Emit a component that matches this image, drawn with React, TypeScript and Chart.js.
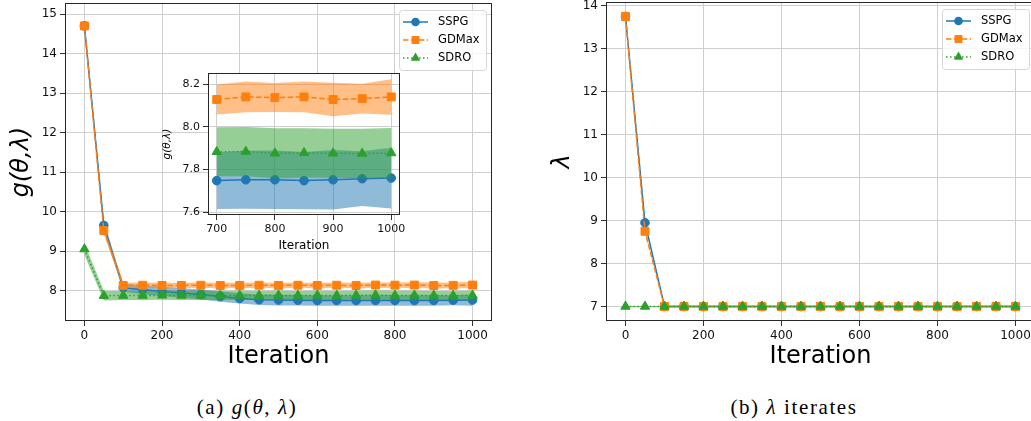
import React, { useEffect, useRef } from 'react';
import { Chart, registerables } from 'chart.js';

Chart.register(...registerables);

const FONT = "'DejaVu Sans', sans-serif";
const BLUE = '#1f77b4';
const ORANGE = '#ff7f0e';
const GREEN = '#2ca02c';

// ---------------- data ----------------
const iterations = [0, 50, 100, 150, 200, 250, 300, 350, 400, 450, 500, 550, 600, 650, 700, 750, 800, 850, 900, 950, 1000];
const seriesNames = ['SSPG', 'GDMax', 'SDRO'];

const gSSPG = [14.70, 9.65, 8.07, 8.02, 7.98, 7.94, 7.90, 7.85, 7.80, 7.77, 7.76, 7.755, 7.75, 7.75, 7.748, 7.752, 7.752, 7.748, 7.752, 7.757, 7.760];
const gSSPGStd = [0.12, 0.12, 0.10, 0.11, 0.12, 0.12, 0.125, 0.13, 0.13, 0.133, 0.135, 0.135, 0.135, 0.135, 0.133, 0.136, 0.137, 0.134, 0.139, 0.128, 0.142];
const gGDMax = [14.70, 9.52, 8.13, 8.135, 8.13, 8.13, 8.135, 8.13, 8.13, 8.135, 8.13, 8.135, 8.13, 8.135, 8.128, 8.140, 8.137, 8.140, 8.128, 8.132, 8.140];
const gGDMaxStd = [0.10, 0.10, 0.07, 0.07, 0.07, 0.07, 0.07, 0.07, 0.07, 0.07, 0.07, 0.07, 0.07, 0.07, 0.070, 0.072, 0.068, 0.072, 0.078, 0.070, 0.083];
const gSDRO = [9.05, 7.87, 7.875, 7.875, 7.88, 7.875, 7.878, 7.876, 7.879, 7.875, 7.878, 7.876, 7.879, 7.876, 7.883, 7.884, 7.876, 7.878, 7.876, 7.875, 7.877];
const gSDROStd = [0.15, 0.12, 0.115, 0.115, 0.115, 0.115, 0.115, 0.115, 0.115, 0.115, 0.115, 0.115, 0.115, 0.115, 0.115, 0.115, 0.117, 0.115, 0.115, 0.116, 0.118];

const lamSSPG = [13.75, 8.95, 7.0, 7.0, 7.0, 7.0, 7.0, 7.0, 7.0, 7.0, 7.0, 7.0, 7.0, 7.0, 7.0, 7.0, 7.0, 7.0, 7.0, 7.0, 7.0];
const lamSSPGStd = [0.04, 0.04, 0.015, 0.015, 0.015, 0.015, 0.015, 0.015, 0.015, 0.015, 0.015, 0.015, 0.015, 0.015, 0.015, 0.015, 0.015, 0.015, 0.015, 0.015, 0.015];
const lamGDMax = [13.75, 8.75, 7.0, 7.0, 7.0, 7.0, 7.0, 7.0, 7.0, 7.0, 7.0, 7.0, 7.0, 7.0, 7.0, 7.0, 7.0, 7.0, 7.0, 7.0, 7.0];
const lamGDMaxStd = [0.05, 0.05, 0.02, 0.02, 0.02, 0.02, 0.02, 0.02, 0.02, 0.02, 0.02, 0.02, 0.02, 0.02, 0.02, 0.02, 0.02, 0.02, 0.02, 0.02, 0.02];
const lamSDRO = [7.0, 7.0, 7.0, 7.0, 7.0, 7.0, 7.0, 7.0, 7.0, 7.0, 7.0, 7.0, 7.0, 7.0, 7.0, 7.0, 7.0, 7.0, 7.0, 7.0, 7.0];
const lamSDROStd = [0.01, 0.01, 0.01, 0.01, 0.01, 0.01, 0.01, 0.01, 0.01, 0.01, 0.01, 0.01, 0.01, 0.01, 0.01, 0.01, 0.01, 0.01, 0.01, 0.01, 0.01];

const xTicks = [0, 200, 400, 600, 800, 1000];
const gTicks = [8, 9, 10, 11, 12, 13, 14, 15];
const lamTicks = [7, 8, 9, 10, 11, 12, 13, 14];
const insetStart = 700;
const insetXTicks = [700, 800, 900, 1000];
const insetYTicks = [7.6, 7.8, 8.0, 8.2];
const insetYLabels = ['7.6', '7.8', '8.0', '8.2'];

// ---------------- styles ----------------
const styles = [
  { color: BLUE, dash: [] as number[], pointStyle: 'circle', radius: 4.3 },
  { color: ORANGE, dash: [5.5, 2.4], pointStyle: 'rect', radius: 5.6 },
  { color: GREEN, dash: [1.5, 2.5], pointStyle: 'triangle', radius: 5.4 },
];

function rgba(hex: string, a: number) {
  const n = parseInt(hex.slice(1), 16);
  return `rgba(${(n >> 16) & 255},${(n >> 8) & 255},${n & 255},${a})`;
}

function buildDatasets(xs: number[], means: number[][], stds: number[][]) {
  const ds: any[] = [];
  let order = 100;
  means.forEach((m, k) => {
    const st = styles[k];
    const sd = stds[k];
    ds.push({
      label: '_lo' + k,
      data: xs.map((x, i) => ({ x, y: m[i] - sd[i] })),
      borderColor: 'rgba(0,0,0,0)',
      borderWidth: 0,
      pointRadius: 0,
      pointHoverRadius: 0,
      fill: false,
      order: order--,
    });
    ds.push({
      label: '_hi' + k,
      data: xs.map((x, i) => ({ x, y: m[i] + sd[i] })),
      borderColor: 'rgba(0,0,0,0)',
      borderWidth: 0,
      pointRadius: 0,
      pointHoverRadius: 0,
      fill: '-1',
      backgroundColor: rgba(st.color, 0.5),
      order: order--,
    });
    ds.push({
      label: seriesNames[k],
      data: xs.map((x, i) => ({ x, y: m[i] })),
      borderColor: st.color,
      backgroundColor: st.color,
      borderWidth: 1.5,
      borderDash: st.dash,
      pointStyle: st.pointStyle,
      pointRadius: st.radius,
      pointBorderWidth: 1,
      pointBackgroundColor: st.color,
      pointBorderColor: st.color,
      fill: false,
      tension: 0,
      order: order--,
    });
  });
  return ds;
}

function drawMarker(ctx: CanvasRenderingContext2D, style: string, x: number, y: number, r: number, color: string) {
  ctx.save();
  ctx.fillStyle = color;
  ctx.beginPath();
  if (style === 'circle') {
    ctx.arc(x, y, r, 0, Math.PI * 2);
  } else if (style === 'rect') {
    const s = r * Math.SQRT1_2;
    ctx.rect(x - s, y - s, 2 * s, 2 * s);
  } else {
    const a = (2 * Math.PI) / 3;
    ctx.moveTo(x, y - r);
    ctx.lineTo(x + Math.sin(a) * r, y - Math.cos(a) * r);
    ctx.lineTo(x + Math.sin(2 * a) * r, y - Math.cos(2 * a) * r);
    ctx.closePath();
  }
  ctx.fill();
  ctx.restore();
}

function framePlugin(legend: boolean, bg: boolean) {
  return {
    id: 'frame' + (legend ? 'L' : '') + (bg ? 'B' : ''),
    beforeDraw(chart: any) {
      if (!bg) return;
      const { ctx, chartArea: a } = chart;
      ctx.save();
      ctx.fillStyle = '#ffffff';
      ctx.fillRect(a.left, a.top, a.right - a.left, a.bottom - a.top);
      ctx.restore();
    },
    afterDraw(chart: any) {
      const { ctx, chartArea: a } = chart;
      const l = Math.round(a.left), t = Math.round(a.top), r = Math.round(a.right), b = Math.round(a.bottom);
      ctx.save();
      ctx.strokeStyle = '#262626';
      ctx.lineWidth = 1;
      ctx.strokeRect(l + 0.5, t + 0.5, r - l - 1, b - t - 1);
      if (legend) {
        const w = 87, h = 60;
        const x0 = Math.round(a.right - 6 - w), y0 = Math.round(a.top + 7);
        ctx.beginPath();
        (ctx as any).roundRect(x0 + 0.5, y0 + 0.5, w, h, 3);
        ctx.fillStyle = 'rgba(255,255,255,0.8)';
        ctx.fill();
        ctx.strokeStyle = '#d6d6d6';
        ctx.stroke();
        seriesNames.forEach((name, i) => {
          const st = styles[i];
          const cy = y0 + 12 + i * 18;
          ctx.beginPath();
          ctx.setLineDash(st.dash);
          ctx.strokeStyle = st.color;
          ctx.lineWidth = 1.5;
          ctx.moveTo(x0 + 4, cy);
          ctx.lineTo(x0 + 29, cy);
          ctx.stroke();
          ctx.setLineDash([]);
          drawMarker(ctx, st.pointStyle, x0 + 16.5, cy, st.radius, st.color);
          ctx.fillStyle = '#000';
          ctx.font = `11.5px ${FONT}`;
          ctx.textAlign = 'left';
          ctx.textBaseline = 'middle';
          ctx.fillText(name, x0 + 39, cy + 0.5);
        });
      }
      ctx.restore();
    },
  };
}

function zeroPad(s: any) {
  s.paddingLeft = 0;
  s.paddingRight = 0;
  s.paddingTop = 0;
  s.paddingBottom = 0;
}

interface AxisSpec {
  min: number;
  max: number;
  ticks: number[];
  labels: (v: number) => string;
  size: number;
  tickFont: number;
  title: string;
  titleFont: number;
  titleItalic: boolean;
  titlePad: any;
}

function axis(spec: AxisSpec, horizontal: boolean) {
  return {
    type: 'linear',
    min: spec.min,
    max: spec.max,
    afterBuildTicks: (s: any) => {
      s.ticks = spec.ticks.map((v) => ({ value: v }));
    },
    afterFit: (s: any) => {
      if (horizontal) s.height = spec.size;
      else s.width = spec.size;
      zeroPad(s);
    },
    ticks: {
      autoSkip: false,
      maxRotation: 0,
      minRotation: 0,
      padding: 3,
      color: '#111',
      font: { family: FONT, size: spec.tickFont },
      callback: (v: any) => spec.labels(Number(v)),
    },
    grid: {
      color: '#cfcfcf',
      lineWidth: 1,
      drawTicks: true,
      tickLength: 5,
      tickColor: '#333',
      tickWidth: 1,
    },
    border: { display: false },
    title: {
      display: true,
      text: spec.title,
      color: '#000',
      font: { family: FONT, size: spec.titleFont, style: spec.titleItalic ? 'italic' : 'normal', lineHeight: 1.2 },
      padding: spec.titlePad,
    },
  };
}

function makeConfig(datasets: any[], x: AxisSpec, y: AxisSpec, padding: any, legend: boolean, bg: boolean) {
  return {
    type: 'line',
    data: { datasets },
    options: {
      animation: false,
      responsive: false,
      devicePixelRatio: 1,
      events: [],
      layout: { padding, autoPadding: false },
      plugins: { legend: { display: false }, tooltip: { enabled: false }, title: { display: false } },
      scales: { x: axis(x, true), y: axis(y, false) },
    },
    plugins: [framePlugin(legend, bg)],
  } as any;
}

function ChartCanvas(props: { left: number; top: number; width: number; height: number; make: () => any }) {
  const ref = useRef<HTMLCanvasElement>(null);
  useEffect(() => {
    const chart = new Chart(ref.current as HTMLCanvasElement, props.make());
    return () => chart.destroy();
  }, []);
  return (
    <canvas
      ref={ref}
      width={props.width}
      height={props.height}
      style={{ position: 'absolute', left: props.left, top: props.top, width: props.width, height: props.height }}
    />
  );
}

const intLabel = (v: number) => String(v);

function leftChart() {
  const ds = buildDatasets(iterations, [gSSPG, gGDMax, gSDRO], [gSSPGStd, gGDMaxStd, gSDROStd]);
  return makeConfig(
    ds,
    { min: -50, max: 1050, ticks: xTicks, labels: intLabel, size: 59, tickFont: 12, title: 'Iteration', titleFont: 24, titleItalic: false, titlePad: { top: 0, bottom: 8.6 } },
    { min: 7.23, max: 15.28, ticks: gTicks, labels: intLabel, size: 65, tickFont: 12, title: 'g(θ,λ)', titleFont: 24, titleItalic: true, titlePad: { top: 7.6, bottom: 0 } },
    { left: 0, top: 3, right: 28, bottom: 0 },
    true,
    false
  );
}

function insetChart() {
  const idx = iterations.map((v, i) => i).filter((i) => iterations[i] >= insetStart);
  const xs = idx.map((i) => iterations[i]);
  const pick = (arr: number[]) => idx.map((i) => arr[i]);
  const ds = buildDatasets(xs, [pick(gSSPG), pick(gGDMax), pick(gSDRO)], [pick(gSSPGStd), pick(gGDMaxStd), pick(gSDROStd)]);
  return makeConfig(
    ds,
    { min: 685, max: 1015, ticks: insetXTicks, labels: intLabel, size: 40, tickFont: 11, title: 'Iteration', titleFont: 12, titleItalic: false, titlePad: { top: 0, bottom: 2.3 } },
    { min: 7.587, max: 8.252, ticks: insetYTicks, labels: (v) => insetYLabels[insetYTicks.findIndex((t) => Math.abs(t - v) < 1e-6)] ?? v.toFixed(1), size: 58, tickFont: 11, title: 'g(θ,λ)', titleFont: 10.5, titleItalic: true, titlePad: { top: 10.7, bottom: 0 } },
    { left: 0, top: 5, right: 10, bottom: 0 },
    false,
    true
  );
}

function rightChart() {
  const ds = buildDatasets(iterations, [lamSSPG, lamGDMax, lamSDRO], [lamSSPGStd, lamGDMaxStd, lamSDROStd]);
  return makeConfig(
    ds,
    { min: -50, max: 1050, ticks: xTicks, labels: intLabel, size: 59, tickFont: 12, title: 'Iteration', titleFont: 24, titleItalic: false, titlePad: { top: 0, bottom: 8.6 } },
    { min: 6.6625, max: 14.0875, ticks: lamTicks, labels: intLabel, size: 86, tickFont: 12, title: 'λ', titleFont: 24, titleItalic: true, titlePad: { top: 28.6, bottom: 0 } },
    { left: 0, top: 2, right: 25, bottom: 0 },
    true,
    false
  );
}

const captionStyle: React.CSSProperties = {
  position: 'absolute',
  top: 395,
  width: 240,
  height: 24,
  lineHeight: '24px',
  textAlign: 'center',
  fontFamily: "'Liberation Serif', serif",
  fontSize: 21,
  letterSpacing: '1.6px',
  color: '#000',
  whiteSpace: 'nowrap',
};

export default function App() {
  return (
    <div style={{ position: 'fixed', left: 0, top: 0, width: 1031, height: 421, overflow: 'hidden', background: '#fff' }}>
      <ChartCanvas left={0} top={0} width={520} height={380} make={leftChart} />
      <ChartCanvas left={150} top={68} width={260} height={187} make={insetChart} />
      <ChartCanvas left={520} top={0} width={540} height={380} make={rightChart} />
      <div style={{ ...captionStyle, left: 127 }}>
        (a) <i>g</i>(<i>θ</i>, <i>λ</i>)
      </div>
      <div style={{ ...captionStyle, left: 674 }}>
        (b) <i>λ</i> iterates
      </div>
    </div>
  );
}
